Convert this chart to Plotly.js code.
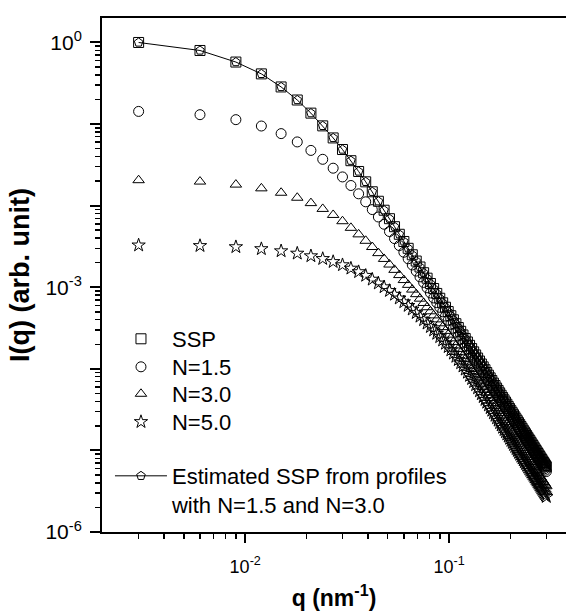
<!DOCTYPE html>
<html>
<head>
<meta charset="utf-8">
<script src="https://cdn.plot.ly/plotly-3.0.1.min.js"></script>
<style>html,body{margin:0;padding:0;background:#fff;}#chart{width:566px;height:612px;}</style>
</head>
<body>
<div id="chart"></div>
<script>
// q values (nm^-1)
const q = [0.003,0.006,0.009,0.012,0.015,0.018,0.021,0.024,0.027,0.030,
0.033,0.036,0.039,0.042,0.045,0.048,0.051,0.054,0.057,0.060,
0.063,0.066,0.069,0.072,0.075,0.078,0.081,0.084,0.087,0.090,
0.093,0.096,0.099,0.102,0.105,0.108,0.111,0.114,0.117,0.120,
0.123,0.126,0.129,0.132,0.135,0.138,0.141,0.144,0.147,0.150,
0.153,0.156,0.159,0.162,0.165,0.168,0.171,0.174,0.177,0.180,
0.183,0.186,0.189,0.192,0.195,0.198,0.201,0.204,0.207,0.210,
0.213,0.216,0.219,0.222,0.225,0.228,0.231,0.234,0.237,0.240,
0.243,0.246,0.249,0.252,0.255,0.258,0.261,0.264,0.267,0.270,
0.273,0.276,0.279,0.282,0.285,0.288,0.291,0.294,0.297,0.300];

// log10 of I(q)
const logI_SSP = [0.000,-0.098,-0.240,-0.385,-0.545,-0.705,-0.866,-1.022,-1.170,-1.312,
-1.449,-1.581,-1.708,-1.830,-1.946,-2.056,-2.160,-2.258,-2.351,-2.439,
-2.523,-2.602,-2.679,-2.752,-2.822,-2.889,-2.954,-3.016,-3.076,-3.135,
-3.191,-3.245,-3.298,-3.349,-3.399,-3.447,-3.494,-3.540,-3.585,-3.628,
-3.671,-3.712,-3.752,-3.792,-3.830,-3.868,-3.905,-3.941,-3.976,-4.011,
-4.045,-4.078,-4.111,-4.143,-4.175,-4.205,-4.236,-4.265,-4.295,-4.324,
-4.352,-4.380,-4.407,-4.434,-4.461,-4.487,-4.513,-4.538,-4.563,-4.588,
-4.613,-4.636,-4.660,-4.683,-4.707,-4.729,-4.752,-4.774,-4.796,-4.817,
-4.839,-4.860,-4.880,-4.901,-4.921,-4.941,-4.961,-4.981,-5.000,-5.019,
-5.038,-5.057,-5.076,-5.094,-5.112,-5.130,-5.148,-5.165,-5.183,-5.200];

const logI_N15 = [-0.845,-0.885,-0.946,-1.024,-1.117,-1.219,-1.323,-1.432,-1.541,-1.648,
-1.753,-1.855,-1.953,-2.048,-2.139,-2.228,-2.317,-2.404,-2.489,-2.571,
-2.651,-2.727,-2.802,-2.873,-2.941,-3.007,-3.070,-3.131,-3.189,-3.246,
-3.301,-3.354,-3.405,-3.455,-3.504,-3.551,-3.597,-3.641,-3.685,-3.727,
-3.768,-3.808,-3.848,-3.887,-3.924,-3.961,-3.997,-4.032,-4.066,-4.100,
-4.133,-4.166,-4.198,-4.229,-4.260,-4.290,-4.319,-4.348,-4.377,-4.405,
-4.432,-4.460,-4.486,-4.513,-4.539,-4.564,-4.590,-4.614,-4.638,-4.663,
-4.687,-4.710,-4.733,-4.755,-4.778,-4.800,-4.822,-4.844,-4.865,-4.886,
-4.907,-4.927,-4.948,-4.968,-4.987,-5.007,-5.026,-5.045,-5.064,-5.083,
-5.101,-5.120,-5.138,-5.155,-5.173,-5.191,-5.208,-5.225,-5.242,-5.259];

const logI_N30 = [-1.688,-1.705,-1.742,-1.788,-1.842,-1.903,-1.969,-2.040,-2.114,-2.191,
-2.272,-2.352,-2.431,-2.507,-2.582,-2.653,-2.722,-2.787,-2.851,-2.912,
-2.971,-3.029,-3.085,-3.140,-3.193,-3.245,-3.295,-3.345,-3.394,-3.442,
-3.489,-3.535,-3.581,-3.626,-3.670,-3.713,-3.756,-3.798,-3.840,-3.881,
-3.922,-3.962,-4.002,-4.042,-4.080,-4.117,-4.154,-4.189,-4.225,-4.259,
-4.293,-4.326,-4.358,-4.390,-4.421,-4.452,-4.482,-4.512,-4.541,-4.570,
-4.597,-4.625,-4.652,-4.679,-4.706,-4.731,-4.757,-4.782,-4.807,-4.832,
-4.856,-4.880,-4.903,-4.926,-4.949,-4.972,-4.994,-5.016,-5.038,-5.059,
-5.080,-5.101,-5.122,-5.142,-5.162,-5.182,-5.202,-5.221,-5.241,-5.260,
-5.278,-5.297,-5.316,-5.334,-5.352,-5.370,-5.387,-5.405,-5.422,-5.439];

const logI_N50 = [-2.485,-2.492,-2.506,-2.530,-2.556,-2.585,-2.617,-2.651,-2.688,-2.727,
-2.769,-2.812,-2.857,-2.904,-2.951,-2.997,-3.043,-3.089,-3.135,-3.181,
-3.226,-3.270,-3.314,-3.358,-3.401,-3.443,-3.485,-3.527,-3.568,-3.609,
-3.650,-3.690,-3.731,-3.771,-3.811,-3.850,-3.890,-3.929,-3.968,-4.007,
-4.045,-4.084,-4.122,-4.160,-4.198,-4.236,-4.273,-4.309,-4.344,-4.379,
-4.413,-4.446,-4.479,-4.511,-4.543,-4.573,-4.604,-4.633,-4.663,-4.692,
-4.720,-4.748,-4.775,-4.802,-4.829,-4.855,-4.881,-4.906,-4.931,-4.956,
-4.981,-5.004,-5.028,-5.051,-5.075,-5.097,-5.120,-5.142,-5.164,-5.185,
-5.207,-5.228,-5.248,-5.269,-5.289,-5.309,-5.329,-5.349,-5.368,-5.387,
-5.406,-5.425,-5.444,-5.462,-5.480,-5.498,-5.516,-5.533,-5.551,-5.568];

// Estimated SSP (pentagons + line): lies on the SSP squares
const logI_Est = [0.000,-0.098,-0.240,-0.385,-0.545,-0.705,-0.866,-1.022,-1.170,-1.312,
-1.449,-1.581,-1.708,-1.830,-1.946,-2.056,-2.160,-2.258,-2.351,-2.439,
-2.523,-2.602,-2.679,-2.752,-2.822,-2.889,-2.954,-3.016,-3.076,-3.135,
-3.191,-3.245,-3.298,-3.349,-3.399,-3.447,-3.494,-3.540,-3.585,-3.628,
-3.671,-3.712,-3.752,-3.792,-3.830,-3.868,-3.905,-3.941,-3.976,-4.011,
-4.045,-4.078,-4.111,-4.143,-4.175,-4.205,-4.236,-4.265,-4.295,-4.324,
-4.352,-4.380,-4.407,-4.434,-4.461,-4.487,-4.513,-4.538,-4.563,-4.588,
-4.613,-4.636,-4.660,-4.683,-4.707,-4.729,-4.752,-4.774,-4.796,-4.817,
-4.839,-4.860,-4.880,-4.901,-4.921,-4.941,-4.961,-4.981,-5.000,-5.019,
-5.038,-5.057,-5.076,-5.094,-5.112,-5.130,-5.148,-5.165,-5.183,-5.200];

const names = ['SSP', 'N=1.5', 'N=3.0', 'N=5.0', 'Estimated SSP from profiles<br>with N=1.5 and N=3.0'];
const xTickVals = [0.01, 0.1];
const xTickText = ['10<sup>-2</sup>', '10<sup>-1</sup>'];
const yTickVals = [1, 1e-1, 1e-2, 1e-3, 1e-4, 1e-5, 1e-6];
const yTickText = ['10<sup>0</sup>', '', '', '10<sup>-3</sup>', '', '', '10<sup>-6</sup>'];

const toI = a => a.map(v => Math.pow(10, v));

const xMinor = [];
for (let e = -3; e <= -1; e++) for (let m = 2; m <= 9; m++) { const v = m * Math.pow(10, e); if (v > 0.002 && v < 0.38) xMinor.push(v); }
const yMinor = [];
for (let e = -6; e <= -1; e++) for (let m = 2; m <= 9; m++) yMinor.push(m * Math.pow(10, e));

const FONT = 'Arial, "Liberation Sans", Helvetica, sans-serif';
const mk = (sym, size) => ({symbol: sym, size: size, color: 'black', line: {width: 1, color: 'black'}});

const traces = [
  {x: q, y: toI(logI_SSP), name: names[0], mode: 'markers', type: 'scatter', marker: mk('square-open', 10), legend: 'legend'},
  {x: q, y: toI(logI_N15), name: names[1], mode: 'markers', type: 'scatter', marker: mk('circle-open', 10), legend: 'legend2'},
  {x: q, y: toI(logI_N30), name: names[2], mode: 'markers', type: 'scatter', marker: mk('triangle-up-open', 10), legend: 'legend3'},
  {x: q, y: toI(logI_N50), name: names[3], mode: 'markers', type: 'scatter', marker: mk('star-open', 10), legend: 'legend4'},
  {x: q, y: toI(logI_Est), name: names[4], mode: 'lines+markers', type: 'scatter', line: {color: 'black', width: 1}, marker: mk('pentagon-open', 9), legend: 'legend5'}
];

const legBase = (yy, anchor) => ({x: 0.0172, y: yy, xanchor: 'left', yanchor: anchor, bgcolor: 'rgba(0,0,0,0)',
  font: {family: FONT, size: 22, color: 'black'}, itemwidth: 52, valign: 'top'});

const layout = {
  width: 566, height: 612,
  margin: {l: 102, r: 0, t: 18, b: 80},
  paper_bgcolor: 'white', plot_bgcolor: 'white',
  font: {family: FONT, color: 'black', size: 18},
  showlegend: true,
  legend: legBase(0.3755, 'middle'),
  legend2: legBase(0.3210, 'middle'),
  legend3: legBase(0.2685, 'middle'),
  legend4: legBase(0.2140, 'middle'),
  legend5: legBase(0.0807, 'middle'),
  xaxis: {
    type: 'log', range: [-2.7025, -0.4265],
    showline: true, linecolor: 'black', linewidth: 2, mirror: true,
    showgrid: false, zeroline: false,
    ticks: 'outside', ticklen: 9, tickwidth: 2, tickcolor: 'black',
    tickmode: 'array', tickvals: xTickVals, ticktext: xTickText,
    tickfont: {family: FONT, size: 18, color: 'black'}, ticklabelstandoff: 8,
    minor: {tickmode: 'array', tickvals: xMinor, ticks: 'outside', ticklen: 5, tickwidth: 1.5, tickcolor: 'black', showgrid: false},
    title: {text: '<b>q (nm<sup>-1</sup>)</b>', font: {family: FONT, size: 23, color: 'black'}, standoff: 14}
  },
  yaxis: {
    type: 'log', range: [-6, 0.3],
    showline: true, linecolor: 'black', linewidth: 2,
    showgrid: false, zeroline: false,
    ticks: 'outside', ticklen: 10, tickwidth: 2, tickcolor: 'black',
    tickmode: 'array', tickvals: yTickVals, ticktext: yTickText,
    tickfont: {family: FONT, size: 21, color: 'black'}, ticklabelstandoff: 4,
    minor: {tickmode: 'array', tickvals: yMinor, ticks: 'outside', ticklen: 5, tickwidth: 1.5, tickcolor: 'black', showgrid: false},
    title: {text: '<b>I(q) (arb. unit)</b>', font: {family: FONT, size: 27, color: 'black'}, standoff: 8}
  }
};

Plotly.newPlot('chart', traces, layout, {displayModeBar: false, staticPlot: true});
</script>
</body>
</html>
